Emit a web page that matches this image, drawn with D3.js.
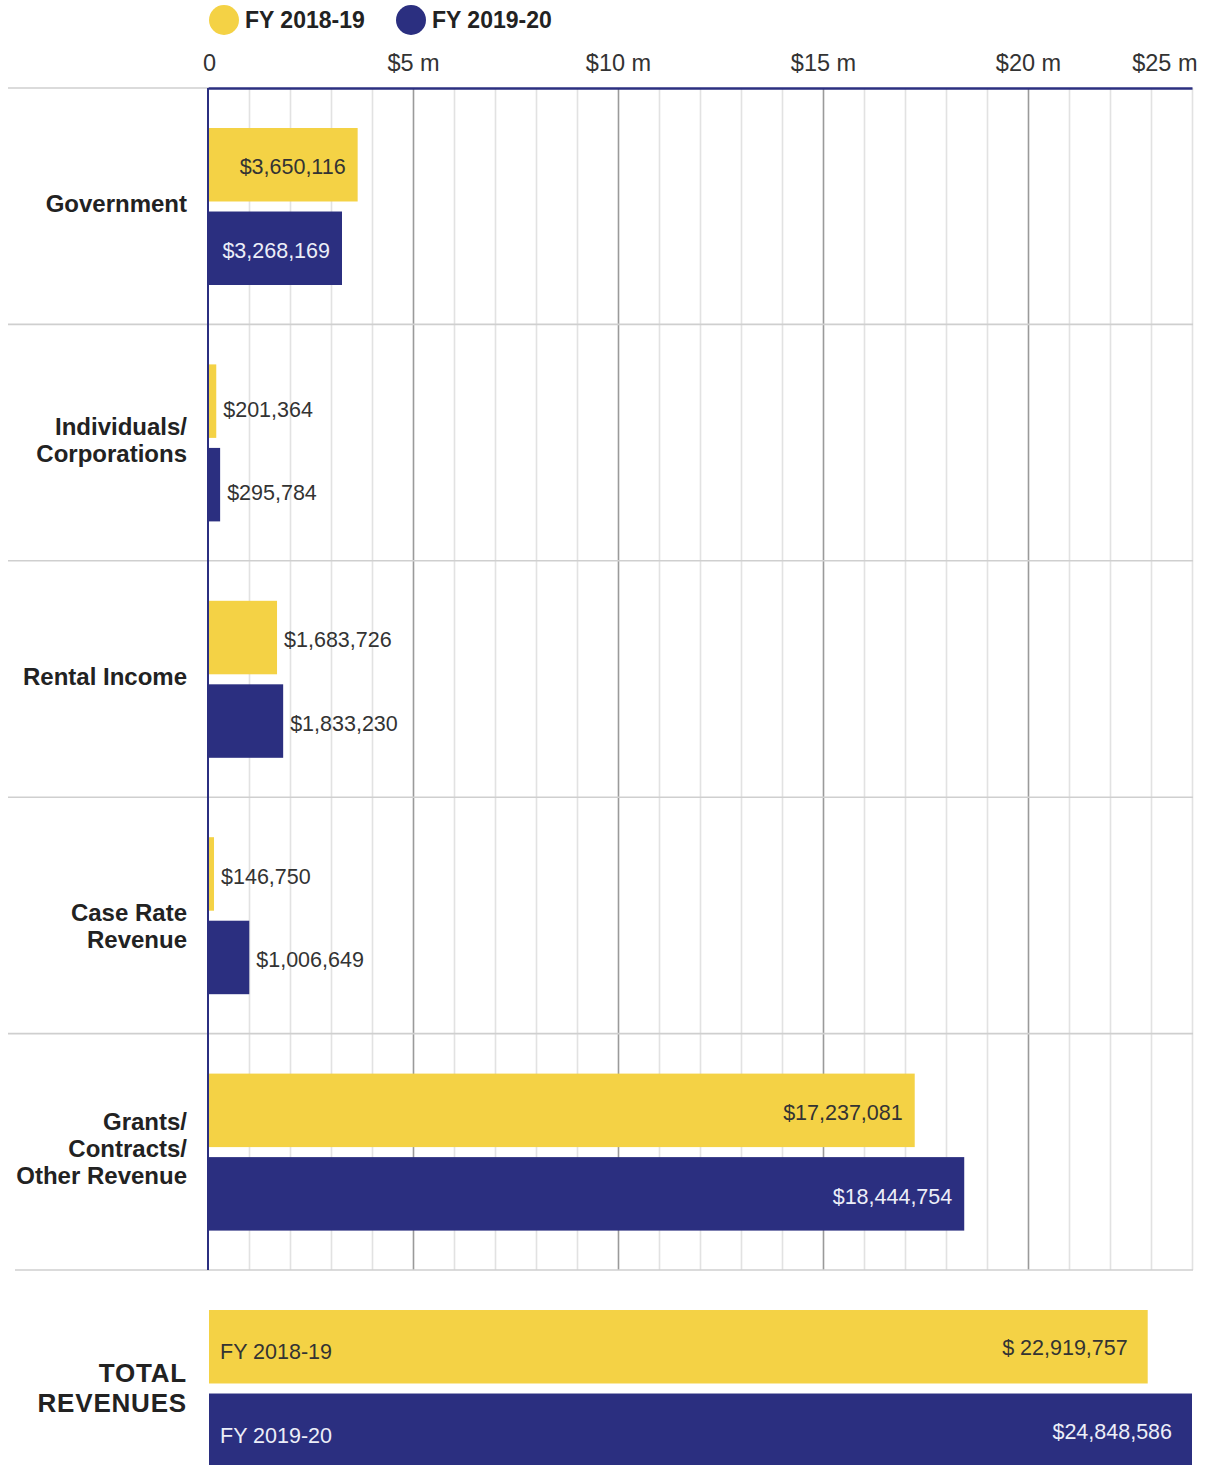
<!DOCTYPE html>
<html><head><meta charset="utf-8">
<script src="https://cdn.jsdelivr.net/npm/d3@7"></script>
<style>
html,body{margin:0;padding:0;background:#fff;}
svg{display:block;font-family:"Liberation Sans",Arial,Helvetica,sans-serif;}
</style></head>
<body><svg id="c" width="1208" height="1465"></svg>
<script>
const categories = [["Government"],["Individuals/","Corporations"],["Rental Income"],["Case Rate","Revenue"],["Grants/","Contracts/","Other Revenue"]];
const seriesNames = ["FY 2018-19","FY 2019-20"];
const fy1819 = [3650116, 201364, 1683726, 146750, 17237081];
const fy1920 = [3268169, 295784, 1833230, 1006649, 18444754];
const totals = [22919757, 24848586];
const totalLabels = ["$ 22,919,757","$24,848,586"];
const tickValues = [0, 5e6, 10e6, 15e6, 20e6, 25e6];
const tickLabels = ["0","$5 m","$10 m","$15 m","$20 m","$25 m"];
const minorTicks = [1e6,2e6,3e6,4e6,6e6,7e6,8e6,9e6,11e6,12e6,13e6,14e6,16e6,17e6,18e6,19e6,21e6,22e6,23e6,24e6];
const colors = ["#f4d245","#2b2f80"];

const svg = d3.select("#c");
const x = d3.scaleLinear().domain([0, 24e6]).range([208, 1192]).clamp(true);
const keys = categories.map((c,i)=>i);
const y = d3.scaleBand().domain(keys).range([88, 1270]);
const inner = d3.scaleBand().domain([0,1]).range([40,197]).paddingInner(0.12);
const fmt = d3.format("$,");

// gridlines
const gMinor = svg.append("g").attr("transform","translate(0,88)")
  .call(d3.axisBottom(x).tickValues(minorTicks).tickSize(1270-88).tickFormat(""));
gMinor.select(".domain").remove();
gMinor.selectAll("line").attr("stroke","#e2e2e2").attr("stroke-width",1.6);
const gMajor = svg.append("g").attr("transform","translate(0,88)")
  .call(d3.axisBottom(x).tickValues(tickValues.slice(1,5)).tickSize(1270-88).tickFormat(""));
gMajor.select(".domain").remove();
gMajor.selectAll("line").attr("stroke","#9a9a9a").attr("stroke-width",1.6);

// row separators
const seps = keys.slice(1).map(k=>y(k)).concat([1270]);
svg.append("g").selectAll("line").data(seps).join("line")
  .attr("x1",(d,i)=>i===seps.length-1?15:8).attr("x2",x.range()[1]+1)
  .attr("y1",d=>d).attr("y2",d=>d)
  .attr("stroke","#cfcfcf").attr("stroke-width",1.6);
svg.append("line").attr("x1",8).attr("x2",208).attr("y1",88).attr("y2",88)
  .attr("stroke","#cfcfcf").attr("stroke-width",1.6);

// top axis
const ax = svg.append("g").attr("transform","translate(0,88)")
  .call(d3.axisTop(x).tickValues(tickValues).tickSize(0).tickPadding(17).tickFormat((d,i)=>tickLabels[i]));
ax.select(".domain").attr("stroke","#2b2f80").attr("stroke-width",2.5);
ax.selectAll("text").attr("font-size",23.5).attr("fill","#333").attr("font-family","Liberation Sans, Arial, sans-serif");
ax.selectAll(".tick").filter(d=>d===25e6).select("text").attr("text-anchor","end").attr("dx",5);
ax.selectAll(".tick").filter(d=>d===0).select("text").attr("dx",1);

// left axis line
svg.append("line").attr("x1",208).attr("x2",208).attr("y1",88).attr("y2",1270)
  .attr("stroke","#2b2f80").attr("stroke-width",2);

// legend
const leg = svg.append("g");
const legX = [224, 411];
seriesNames.forEach((s,i)=>{
  leg.append("circle").attr("cx",legX[i]).attr("cy",20).attr("r",15).attr("fill",colors[i]);
  leg.append("text").attr("x",legX[i]+21).attr("y",28).attr("font-size",23).attr("font-weight","bold")
    .attr("fill","#222").text(s);
});

// bars
const data = [];
keys.forEach(k=>{
  data.push({k, s:0, v:fy1819[k]});
  data.push({k, s:1, v:fy1920[k]});
});
const bars = svg.append("g");
bars.selectAll("rect").data(data).join("rect")
  .attr("x",x(0)+1).attr("y",d=>y(d.k)+inner(d.s))
  .attr("width",d=>Math.max(0,x(d.v)-x(0)-1)).attr("height",inner.bandwidth())
  .attr("fill",d=>colors[d.s]);
bars.selectAll("text").data(data).join("text")
  .attr("x",d=>d.v>2.5e6 ? x(d.v)-12 : x(d.v)+7)
  .attr("y",d=>y(d.k)+inner(d.s)+inner.bandwidth()/2 + (d.k===1?8:2))
  .attr("dy","0.36em")
  .attr("text-anchor",d=>d.v>2.5e6?"end":"start")
  .attr("font-size",21.5)
  .attr("fill",d=>d.v>2.5e6 && d.s===1 ? "#eceef8" : "#333")
  .text(d=>fmt(d.v));

// category labels
const lineH = 27;
const cat = svg.append("g");
categories.forEach((lines,k)=>{
  const cy = y(k)+y.bandwidth()/2 - 3 + (k===3?13:0);
  const t = cat.append("text").attr("text-anchor","end").attr("font-size",24).attr("font-weight","bold").attr("fill","#222");
  lines.forEach((l,j)=>{
    t.append("tspan").attr("x",187).attr("y",cy + (j-(lines.length-1)/2)*lineH).attr("dy","0.36em").text(l);
  });
});

// totals
const tTop = 1270;
const tot = svg.append("g");
tot.selectAll("rect").data(totals).join("rect")
  .attr("x",x(0)+1).attr("y",(d,i)=>tTop+inner(i))
  .attr("width",d=>x(d)-x(0)-1).attr("height",inner.bandwidth())
  .attr("fill",(d,i)=>colors[i]);
tot.selectAll("text.nm").data(seriesNames).join("text").attr("class","nm")
  .attr("x",220).attr("y",(d,i)=>tTop+inner(i)+inner.bandwidth()/2+5).attr("dy","0.36em")
  .attr("font-size",21.5).attr("fill",(d,i)=>i?"#eceef8":"#333").text(d=>d);
tot.selectAll("text.val").data(totals).join("text").attr("class","val")
  .attr("x",d=>x(d)-20).attr("y",(d,i)=>tTop+inner(i)+inner.bandwidth()/2+1).attr("dy","0.36em")
  .attr("text-anchor","end").attr("font-size",21.5).attr("fill",(d,i)=>i?"#eceef8":"#333")
  .text((d,i)=>totalLabels[i]);
["TOTAL","REVENUES"].forEach((l,j)=>{
  tot.append("text").attr("text-anchor","end").attr("font-size",26).attr("font-weight","bold").attr("fill","#222")
    .attr("letter-spacing",0.8)
    .attr("x",187).attr("y",1373+j*30).attr("dy","0.36em").text(l);
});
</script></body></html>
